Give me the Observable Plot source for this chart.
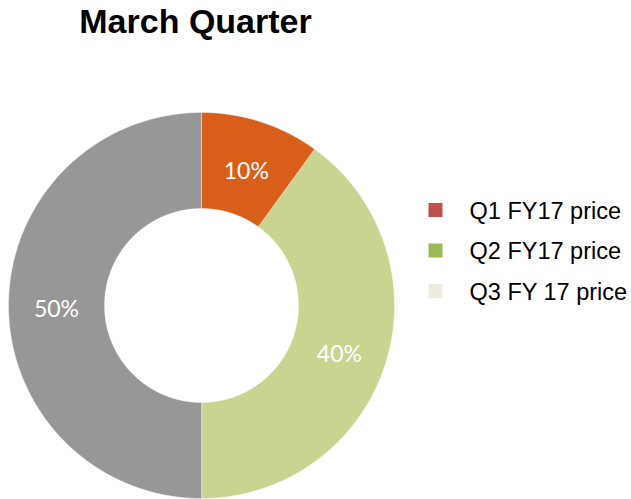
<!DOCTYPE html>
<html>
<head>
<meta charset="utf-8">
<script src="https://cdn.jsdelivr.net/npm/d3@7"></script>
<script src="https://cdn.jsdelivr.net/npm/@observablehq/plot@0.6"></script>
<style>
  html, body { margin: 0; padding: 0; background: #ffffff; }
  svg { display: block; }
</style>
</head>
<body>
<div id="chart"></div>
<script>
// ---- data ----
const title = "March Quarter";
const categories = ["Q1 FY17 price", "Q2 FY17 price", "Q3 FY 17 price"];
const shares = [10, 40, 50];
const sliceLabels = ["10%", "40%", "50%"];

// ---- styles ----
const sliceColors = ["#D85E1A", "#C8D48F", "#979797"];
const legendColors = ["#C0504D", "#9BBB59", "#EEECE1"];
const R = 193, r0 = 97;
const cx = 201, cy = 305; // pixel centre of the donut

// ---- geometry from data ----
const pie = d3.pie().sort(null).value(d => d.value)(categories.map((c, i) => ({cat: c, value: shares[i], label: sliceLabels[i], color: sliceColors[i]})));
const poly = [];
pie.forEach(s => {
  const n = Math.max(2, Math.ceil((s.endAngle - s.startAngle) / (Math.PI / 360)));
  for (let k = 0; k <= n; k++) {
    const a = s.startAngle + (s.endAngle - s.startAngle) * k / n;
    poly.push({cat: s.data.cat, color: s.data.color, x: R * Math.sin(a), y: R * Math.cos(a)});
  }
  for (let k = n; k >= 0; k--) {
    const a = s.startAngle + (s.endAngle - s.startAngle) * k / n;
    poly.push({cat: s.data.cat, color: s.data.color, x: r0 * Math.sin(a), y: r0 * Math.cos(a)});
  }
});
const rm = (R + r0) / 2;
const labelPts = pie.map(s => {
  const a = (s.startAngle + s.endAngle) / 2;
  return {label: s.data.label, x: rm * Math.sin(a), y: rm * Math.cos(a)};
});
const legend = categories.map((c, i) => ({cat: c, color: legendColors[i], i}));

const W = 631, H = 499;
const plot = Plot.plot({
  width: W,
  height: H,
  margin: 0,
  x: {type: "linear", domain: [-R, R], range: [cx - R, cx + R], axis: null},
  y: {type: "linear", domain: [-R, R], range: [cy + R, cy - R], axis: null},
  style: {background: "#ffffff"},
  marks: [
    Plot.line(poly, {x: "x", y: "y", z: "cat", fill: "color", stroke: "#ffffff", strokeWidth: 0.4, curve: "linear-closed"}),
    Plot.text(labelPts, {x: "x", y: "y", text: "label", fill: "#ffffff", fontSize: 23, fontFamily: "Lato, 'Open Sans', sans-serif", dy: 4}),
    // title
    Plot.text([title], {x: () => 195 - cx, y: () => cy - 22, text: d => d, fontSize: 34, fontWeight: "bold", fontFamily: "'Liberation Sans', Arial, sans-serif", fill: "#000000"}),
    // legend
    Plot.dot(legend, {x: () => 435 - cx, y: d => cy - (209.5 + d.i * 40.5), symbol: "square", r: 7.9, fill: "color", stroke: null}),
    Plot.text(legend, {x: () => 469 - cx, y: d => cy - (210.5 + d.i * 40.5), text: "cat", textAnchor: "start", fontSize: 23.5, fontFamily: "'Liberation Sans', Arial, sans-serif", fill: "#000000"})
  ]
});
document.getElementById("chart").appendChild(plot);
</script>
</body>
</html>
